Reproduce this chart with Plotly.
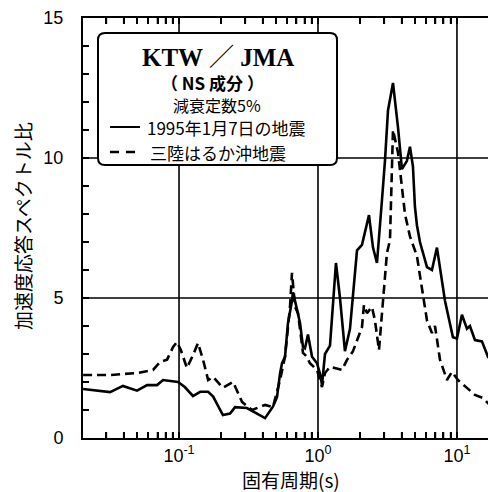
import math
import plotly.graph_objects as go

# ---- data (natural period [s], acceleration response spectral ratio) ----
period_1995 = [0.0204, 0.0319, 0.0395, 0.0499, 0.0589, 0.0695, 0.0767, 0.0984, 0.110, 0.126,
               0.142, 0.162, 0.176, 0.207, 0.233, 0.253, 0.308, 0.364, 0.416, 0.474,
               0.507, 0.533, 0.551, 0.579, 0.608, 0.650, 0.661, 0.706, 0.743, 0.780,
               0.806, 0.847, 0.906, 0.984, 1.033, 1.069, 1.123, 1.220, 1.347, 1.440,
               1.563, 1.699, 1.786, 1.909, 2.073, 2.178, 2.328, 2.488, 2.657, 2.887,
               3.034, 3.190, 3.465, 3.763, 4.020, 4.366, 4.590, 4.823, 4.986, 5.153,
               5.418, 6.085, 6.607, 7.178, 7.547, 8.199, 9.357, 10.0, 10.86, 11.80,
               12.40, 13.47, 15.13, 16.71, 18.15, 19.09]
ratio_1995 = [1.75, 1.64, 1.86, 1.69, 1.89, 1.89, 2.07, 2.0, 1.82, 1.5,
              1.65, 1.65, 1.48, 0.82, 0.87, 1.1, 1.07, 0.87, 0.71, 1.12,
              1.46, 2.3, 2.67, 2.9, 4.1, 4.9, 5.2, 4.6, 4.1, 3.25,
              3.2, 3.7, 2.9, 2.67, 2.3, 1.9, 3.0, 3.3, 6.25, 5.0,
              3.1, 3.9, 5.0, 6.7, 6.9, 7.4, 7.96, 6.8, 6.25, 8.5,
              9.9, 11.7, 12.68, 11.1, 9.6, 9.9, 10.4, 9.7, 8.25, 7.6,
              7.0, 6.1, 6.0, 6.8, 6.1, 4.9, 3.6, 3.55, 4.4, 3.9,
              4.0, 3.5, 3.45, 2.9, 2.95, 2.85]

period_sanriku = [0.0204, 0.0319, 0.0499, 0.0650, 0.0730, 0.0820, 0.0906, 0.0968, 0.103, 0.114,
                  0.126, 0.137, 0.149, 0.162, 0.176, 0.207, 0.245, 0.284, 0.335, 0.383,
                  0.416, 0.474, 0.515, 0.533, 0.579, 0.608, 0.629, 0.650, 0.684, 0.718,
                  0.743, 0.780, 0.834, 0.875, 0.984, 1.069, 1.123, 1.220, 1.488, 1.617,
                  1.786, 1.909, 2.073, 2.142, 2.252, 2.445, 2.570, 2.747, 2.937, 3.134,
                  3.296, 3.406, 3.465, 3.763, 4.020, 4.226, 4.590, 5.153, 5.418, 6.085,
                  6.607, 6.950, 7.547, 8.472, 9.206, 10.17, 11.80, 13.47, 15.38, 17.86,
                  19.09]
ratio_sanriku = [2.25, 2.25, 2.32, 2.43, 2.71, 2.8, 3.25, 3.43, 3.14, 2.5,
                 2.96, 3.39, 2.79, 2.07, 2.18, 1.79, 2.0, 1.29, 1.0, 1.1,
                 1.18, 1.1, 1.8, 2.07, 2.9, 4.1, 4.68, 5.9, 4.68, 4.46,
                 3.86, 3.04, 2.9, 2.67, 2.43, 1.82, 2.32, 2.54, 2.43, 2.79,
                 3.1, 3.5, 3.96, 4.75, 4.46, 4.68, 4.2, 3.14, 4.8, 6.6,
                 7.07, 9.9, 11.0, 10.2, 9.0, 8.0, 7.2, 6.5, 5.8, 4.2,
                 3.75, 4.0, 2.8, 2.07, 2.36, 2.07, 1.79, 1.54, 1.43, 1.1,
                 1.0]

x_major_ticks = [0.1, 1, 10]
x_major_text = ["10<sup>-1</sup>", "10<sup>0</sup>", "10<sup>1</sup>"]
x_minor_ticks = [m * d for d in (0.01, 0.1, 1, 10) for m in range(2, 10)]
y_ticks = [0, 5, 10, 15]
y_minor_ticks = list(range(0, 16))
y_grid = [5, 10]

series_names = ["1995年1月7日の地震", "三陸はるか沖地震"]

# the page body adds an 8px offset; screen coords = figure coords + 8
OFF = 8
W, H = 496 - OFF, 492 - OFF
L, R, T, B = 83, 496, 18, 438          # plot area in screen pixels
X_RANGE = [-1.691, 1.281]
Y_RANGE = [0, 15]
TICK_PX = 6

def px(x):
    return (x - L) / (R - L)

def py(y):
    return (B - y) / (B - T)

JP = "Noto Sans CJK JP, Noto Sans, sans-serif"
NUM = "Liberation Sans, Arial, sans-serif"

x_in = [v for v in x_minor_ticks if X_RANGE[0] < math.log10(v) < X_RANGE[1]]
x_all = sorted(x_major_ticks + x_in)
x_all_text = [x_major_text[x_major_ticks.index(v)] if v in x_major_ticks else "" for v in x_all]
y_all_text = [str(v) if v in y_ticks else "" for v in y_minor_ticks]

fig = go.Figure()
fig.add_trace(go.Scatter(x=period_1995, y=ratio_1995, mode="lines", name=series_names[0],
                         line=dict(color="black", width=2.6), showlegend=False))
fig.add_trace(go.Scatter(x=period_sanriku, y=ratio_sanriku, mode="lines", name=series_names[1],
                         line=dict(color="black", width=2.6, dash="9px,5px"), showlegend=False))

# inward minor tick marks, built from the tick lists and the axis ranges
dy = TICK_PX * (Y_RANGE[1] - Y_RANGE[0]) / (B - T)
dlx = TICK_PX * (X_RANGE[1] - X_RANGE[0]) / (R - L)
tx, ty = [], []
for v in x_in:
    tx += [v, v, None, v, v, None]
    ty += [Y_RANGE[0], Y_RANGE[0] + dy, None, Y_RANGE[1], Y_RANGE[1] - dy, None]
x_left = 10 ** X_RANGE[0]
x_left_in = 10 ** (X_RANGE[0] + dlx)
for v in y_minor_ticks[1:-1]:
    tx += [x_left, x_left_in, None]
    ty += [v, v, None]
fig.add_trace(go.Scatter(x=tx, y=ty, mode="lines", line=dict(color="black", width=1.6),
                         showlegend=False, hoverinfo="skip", cliponaxis=False))

fig.update_layout(
    xaxis=dict(type="log", range=X_RANGE, automargin=False,
               tickmode="array", tickvals=x_all, ticktext=x_all_text,
               ticks="inside", ticklen=TICK_PX, tickwidth=1.6, tickcolor="black",
               showgrid=False, zeroline=False,
               showline=True, linecolor="black", linewidth=2, mirror="allticks",
               tickfont=dict(family=NUM, size=18, color="black")),
    yaxis=dict(range=Y_RANGE, automargin=False,
               tickmode="array", tickvals=y_minor_ticks, ticktext=y_all_text,
               ticks="inside", ticklen=TICK_PX, tickwidth=1.6, tickcolor="black",
               showgrid=False, zeroline=False,
               showline=True, linecolor="black", linewidth=2,
               ticklabelstandoff=14,
               tickfont=dict(family=NUM, size=18, color="black")),
)

shapes = []
xspan = X_RANGE[1] - X_RANGE[0]
for v in x_major_ticks:
    p = (math.log10(v) - X_RANGE[0]) / xspan
    shapes.append(dict(type="line", xref="paper", yref="paper", x0=p, x1=p, y0=0, y1=1,
                       line=dict(color="black", width=1.6), layer="below"))
for v in y_grid:
    p = (v - Y_RANGE[0]) / (Y_RANGE[1] - Y_RANGE[0])
    shapes.append(dict(type="line", xref="paper", yref="paper", x0=0, x1=1, y0=p, y1=p,
                       line=dict(color="black", width=1.6), layer="below"))

# legend box (rounded rectangle)
bx0, bx1, by0, by1, r = 98, 337, 33, 165, 7
path = (f"M {px(bx0 + r)} {py(by0)} L {px(bx1 - r)} {py(by0)} "
        f"Q {px(bx1)} {py(by0)} {px(bx1)} {py(by0 + r)} L {px(bx1)} {py(by1 - r)} "
        f"Q {px(bx1)} {py(by1)} {px(bx1 - r)} {py(by1)} L {px(bx0 + r)} {py(by1)} "
        f"Q {px(bx0)} {py(by1)} {px(bx0)} {py(by1 - r)} L {px(bx0)} {py(by0 + r)} "
        f"Q {px(bx0)} {py(by0)} {px(bx0 + r)} {py(by0)} Z")
shapes += [
    dict(type="path", xref="paper", yref="paper", path=path,
         line=dict(color="black", width=2), fillcolor="white", layer="above"),
    dict(type="line", xref="paper", yref="paper", x0=px(110), x1=px(140), y0=py(127), y1=py(127),
         line=dict(color="black", width=2), layer="above"),
    dict(type="line", xref="paper", yref="paper", x0=px(110), x1=px(142), y0=py(152), y1=py(152),
         line=dict(color="black", width=2.5, dash="9px,7px"), layer="above"),
]

annotations = [
    dict(text="<b>KTW ／ JMA</b>", x=px(218), y=py(57), xref="paper", yref="paper",
         showarrow=False, xanchor="center", yanchor="middle",
         font=dict(family="Liberation Serif, Noto Serif CJK JP, serif", size=25, color="black")),
    dict(text="<b>（ NS 成分 ）</b>", x=px(212), y=py(82), xref="paper", yref="paper",
         showarrow=False, xanchor="center", yanchor="middle",
         font=dict(family=JP, size=17, color="black")),
    dict(text="減衰定数5%", x=px(217), y=py(105), xref="paper", yref="paper",
         showarrow=False, xanchor="center", yanchor="middle",
         font=dict(family=JP, size=16, color="black")),
    dict(text=series_names[0], x=px(145), y=py(128), xref="paper", yref="paper",
         showarrow=False, xanchor="left", yanchor="middle",
         font=dict(family=JP, size=17, color="black")),
    dict(text=series_names[1], x=px(148), y=py(152), xref="paper", yref="paper",
         showarrow=False, xanchor="left", yanchor="middle",
         font=dict(family=JP, size=17, color="black")),
    dict(text="固有周期(s)", x=px(291), y=py(479), xref="paper", yref="paper",
         showarrow=False, xanchor="center", yanchor="middle",
         font=dict(family=JP, size=19, color="black")),
    dict(text="加速度応答スペクトル比", x=px(22), y=py(226), xref="paper", yref="paper",
         showarrow=False, xanchor="center", yanchor="middle", textangle=-90,
         font=dict(family=JP, size=19, color="black")),
]

fig.update_layout(width=W, height=H,
                  margin=dict(l=L - OFF, r=W - (R - OFF), t=T - OFF, b=H - (B - OFF), autoexpand=False),
                  paper_bgcolor="white", plot_bgcolor="white",
                  shapes=shapes, annotations=annotations, showlegend=False)

fig.write_html("out.html")
